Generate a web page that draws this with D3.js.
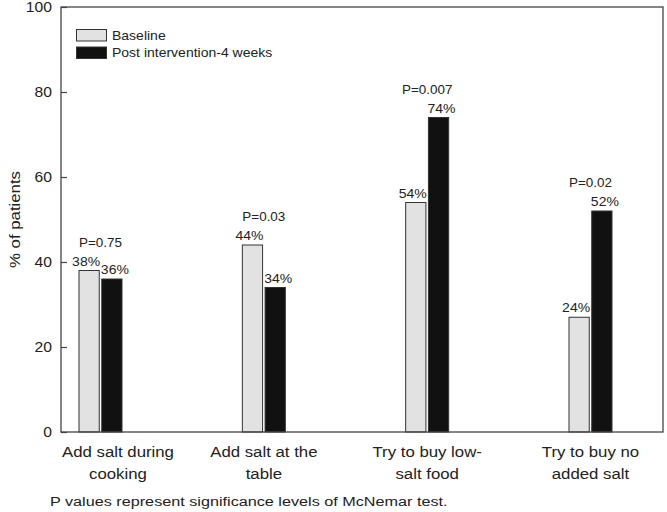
<!DOCTYPE html>
<html>
<head>
<meta charset="utf-8">
<script src="https://cdn.jsdelivr.net/npm/d3@7"></script>
<style>
  html, body { margin: 0; padding: 0; background: #fff; }
  svg { display: block; font-family: "Liberation Sans", Arial, Helvetica, sans-serif; }
</style>
</head>
<body>
<svg id="chart" width="667" height="512"></svg>
<script>
// ---- data ----
const categories = [
  ["Add salt during", "cooking"],
  ["Add salt at the", "table"],
  ["Try to buy low-", "salt food"],
  ["Try to buy no", "added salt"]
];
const series = ["Baseline", "Post intervention-4 weeks"];
const baselineValues = [38, 44, 54, 27];
const postValues = [36, 34, 74, 52];
const baselineLabels = ["38%", "44%", "54%", "24%"];
const postLabels = ["36%", "34%", "74%", "52%"];
const pValues = ["P=0.75", "P=0.03", "P=0.007", "P=0.02"];
const yTicks = [0, 20, 40, 60, 80, 100];
const footnote = "P values represent significance levels of McNemar test.";
const yTitle = "% of patients";

// ---- layout ----
const M = { left: 61, right: 663, top: 7, bottom: 432 };
const SX = 1.12;            // horizontal stretch of the reference's type
const ink = "#222";
const fills = ["#e2e2e2", "#111111"];

const svg = d3.select("#chart");
const catKeys = categories.map((d, i) => i);

const x0 = d3.scalePoint().domain(catKeys).range([100.5, 590.5]);
const x1 = d3.scaleBand().domain(series).range([-21.5, 21.5]).paddingInner(0.11);
const y = d3.scaleLinear().domain([0, 100]).range([M.bottom, M.top]);

function stretchText(sel, x, yy, size, anchor, rot, sx) {
  sel.attr("x", 0).attr("y", 0)
     .attr("font-size", size)
     .attr("text-anchor", anchor || "middle")
     .attr("fill", ink)
     .attr("transform", `translate(${x},${yy})` + (rot ? ` rotate(${rot})` : "") + ` scale(${sx || SX},1)`);
  return sel;
}

// axis ticks (inward)
const yAxis = d3.axisLeft(y).tickValues(yTicks).tickSize(-6).tickPadding(9);
const ga = svg.append("g").attr("transform", `translate(${M.left},0)`).call(yAxis);
ga.select(".domain").remove();
ga.attr("font-family", null).attr("font-size", null);
ga.selectAll(".tick line").attr("stroke", "#444").attr("stroke-width", 1.2);
ga.selectAll(".tick text").each(function() {
  d3.select(this).attr("dy", "0.35em");
  stretchText(d3.select(this), -9, 0, 14, "end");
});

// bars
const data = catKeys.map(i => ({
  i,
  vals: [
    { s: series[0], v: baselineValues[i], lab: baselineLabels[i] },
    { s: series[1], v: postValues[i], lab: postLabels[i] }
  ]
}));

const groups = svg.append("g").selectAll("g").data(data).join("g")
  .attr("transform", d => `translate(${x0(d.i)},0)`);

groups.selectAll("rect").data(d => d.vals).join("rect")
  .attr("x", d => x1(d.s))
  .attr("width", x1.bandwidth())
  .attr("y", d => y(d.v))
  .attr("height", d => y(0) - y(d.v))
  .attr("fill", (d, j) => fills[j])
  .attr("stroke", "#333")
  .attr("stroke-width", 1);

groups.selectAll("text.val").data(d => d.vals).join("text")
  .attr("class", "val")
  .text(d => d.lab)
  .each(function(d) {
    stretchText(d3.select(this), x1(d.s) + x1.bandwidth() / 2 + (d.s === series[1] ? 3 : -3), y(d.v) - 5, 12.5, "middle");
  });

groups.append("text")
  .text(d => pValues[d.i])
  .each(function(d) {
    const vmax = d3.max(d.vals, e => e.v);
    stretchText(d3.select(this), 0, y(vmax) - 24, 12, "middle");
  });

// frame
svg.append("rect")
  .attr("x", M.left).attr("y", M.top)
  .attr("width", M.right - M.left).attr("height", M.bottom - M.top)
  .attr("fill", "none").attr("stroke", "#444").attr("stroke-width", 1.3);

// x category labels
const xl = svg.append("g");
categories.forEach((lines, i) => {
  const g = xl.append("g");
  lines.forEach((ln, k) => {
    stretchText(g.append("text").text(ln), 0, 457 + k * 21.5, 15, "middle");
  });
  const w = d3.max(g.selectAll("text").nodes(), n => n.getComputedTextLength()) * SX;
  const cx = Math.max(x0(i), M.left + 1 + w / 2);
  g.attr("transform", `translate(${cx},0)`);
});

// y title
stretchText(svg.append("text").text(yTitle), 20, (M.top + M.bottom) / 2, 15, "middle", -90);

// legend
const lg = svg.append("g");
series.forEach((s, j) => {
  lg.append("rect")
    .attr("x", 76.5).attr("y", 29.5 + j * 17.5)
    .attr("width", 30).attr("height", 11.5)
    .attr("fill", fills[j]).attr("stroke", "#333").attr("stroke-width", 1);
  stretchText(lg.append("text").text(s), 112, 40 + j * 17, 12.5, "start");
});

// footnote
stretchText(svg.append("text").text(footnote), 50, 506, 13.5, "start", 0, 1.2);
</script>
</body>
</html>
